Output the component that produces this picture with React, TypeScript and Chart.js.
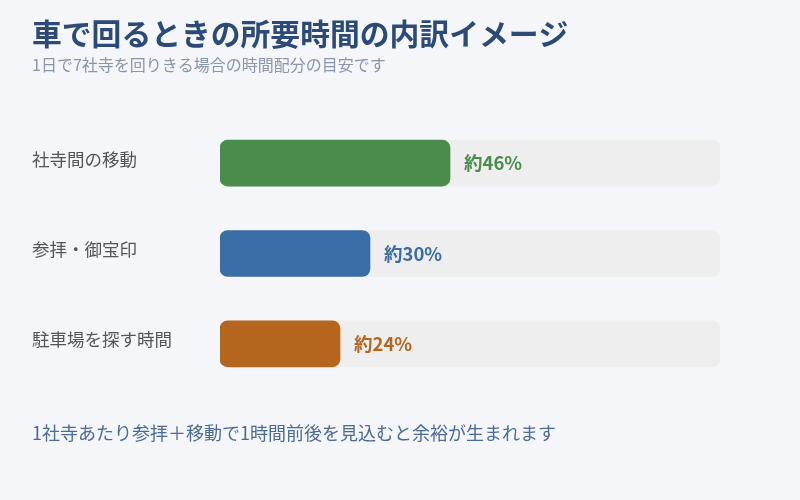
import { useEffect, useRef } from 'react';
import { Chart, registerables } from 'chart.js';
import type { Plugin } from 'chart.js';

Chart.register(...registerables);

const FONT = '"Noto Sans CJK JP", "Noto Sans", sans-serif';

const categories = ['社寺間の移動', '参拝・御宝印', '駐車場を探す時間'];
const shares = [46, 30, 24];
const shareLabels = ['約46%', '約30%', '約24%'];
const trackValues = [100, 100, 100];
const barColors = ['#4a8c4b', '#3a6da5', '#b5651e'];

const titleText = '車で回るときの所要時間の内訳イメージ';
const subtitleText = '1日で7社寺を回りきる場合の時間配分の目安です';
const noteText = '1社寺あたり参拝＋移動で1時間前後を見込むと余裕が生まれます';

// value labels at the end of each bar + the footnote
const extrasPlugin: Plugin<'bar'> = {
	id: 'extras',
	afterDatasetsDraw(chart) {
		const { ctx } = chart;
		const meta = chart.getDatasetMeta(0);
		ctx.save();
		ctx.font = `bold 18.5px ${FONT}`;
		ctx.textBaseline = 'middle';
		ctx.textAlign = 'left';
		meta.data.forEach((bar, i) => {
			ctx.fillStyle = barColors[i];
			ctx.fillText(shareLabels[i], bar.x + 14, bar.y);
		});
		ctx.font = `18px ${FONT}`;
		ctx.fillStyle = '#4b6a97';
		ctx.fillText(noteText, 32, 433);
		ctx.restore();
	}
};

export default function App() {
	const canvasRef = useRef<HTMLCanvasElement | null>(null);
	const chartRef = useRef<Chart | null>(null);

	useEffect(() => {
		if (!canvasRef.current) return;
		if (chartRef.current) chartRef.current.destroy();

		chartRef.current = new Chart(canvasRef.current, {
			type: 'bar',
			data: {
				labels: categories,
				datasets: [
					{
						data: shares,
						backgroundColor: barColors,
						grouped: false,
						order: 0,
						barThickness: 46,
						borderRadius: 8,
						borderSkipped: false
					},
					{
						data: trackValues,
						backgroundColor: '#eeeeee',
						grouped: false,
						order: 1,
						barThickness: 46,
						borderRadius: 8,
						borderSkipped: false
					}
				]
			},
			options: {
				indexAxis: 'y',
				animation: false,
				responsive: true,
				maintainAspectRatio: false,
				layout: { padding: { left: 32, right: 80, top: 0, bottom: 111 } },
				plugins: {
					legend: { display: false },
					tooltip: { enabled: false },
					title: {
						display: true,
						text: titleText,
						align: 'start',
						color: '#2c4a78',
						font: { family: FONT, size: 29.8, weight: 'bold', lineHeight: 1.2 },
						padding: { top: 16, bottom: 4 }
					},
					subtitle: {
						display: true,
						text: subtitleText,
						align: 'start',
						color: '#8a94ab',
						font: { family: FONT, size: 16, lineHeight: 1.2 },
						padding: { top: 0, bottom: 43 }
					}
				},
				scales: {
					x: { display: false, min: 0, max: 100 },
					y: {
						grid: { display: false },
						border: { display: false },
						ticks: {
							crossAlign: 'far',
							labelOffset: -4,
							color: '#555555',
							font: { family: FONT, size: 17.5 }
						},
						afterFit(scale) {
							scale.width = 188;
						}
					}
				}
			},
			plugins: [extrasPlugin]
		});

		return () => {
			chartRef.current?.destroy();
			chartRef.current = null;
		};
	}, []);

	return (
		<div
			style={{
				position: 'fixed',
				left: 0,
				top: 0,
				width: 800,
				height: 500,
				background: '#f5f6fa'
			}}
		>
			<canvas ref={canvasRef} />
		</div>
	);
}
